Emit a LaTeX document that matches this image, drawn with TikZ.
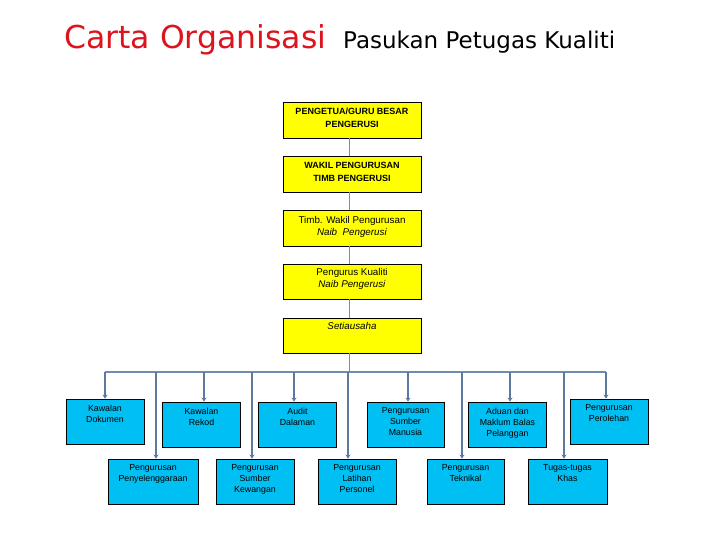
\documentclass[tikz,border=0pt]{standalone}
\usepackage{fontspec}
\setmainfont{Liberation Sans}
\newfontfamily\titlefont{DejaVu Sans}
\usetikzlibrary{arrows.meta,calc}
\definecolor{yfill}{RGB}{255,255,0}
\definecolor{cfill}{RGB}{0,191,243}
\definecolor{lnk}{RGB}{92,122,160}
\definecolor{barc}{RGB}{110,140,176}
\definecolor{spinec}{RGB}{120,140,165}
\definecolor{titlered}{RGB}{220,20,30}
\begin{document}
\begin{tikzpicture}[x=1pt,y=-1pt,
  ybx/.style={draw=black,fill=yfill,line width=0.8pt,minimum width=138pt,minimum height=36pt,inner sep=0pt},
  cbx/.style={draw=black,fill=cfill,line width=0.8pt,minimum width=78pt,minimum height=45pt,inner sep=0pt},
  ytx/.style={anchor=north,inner sep=0pt,align=center,font=\fontsize{9.8}{12}\selectfont},
  ytxb/.style={anchor=north,inner sep=0pt,align=center,font=\fontsize{9}{13}\selectfont\bfseries},
  ctx/.style={anchor=north,inner sep=0pt,align=center,font=\fontsize{8.8}{11}\selectfont},
  spine/.style={draw=spinec,line width=0.8pt},
  barl/.style={draw=barc,line width=1.3pt},
  arr/.style={draw=lnk,line width=2.5pt,-{Stealth[length=4pt,width=5pt]}}]
\useasboundingbox[fill=white] (0,0) rectangle (720,540);

% titles
\node[anchor=base west,inner sep=0pt,text=titlered,font=\titlefont\fontsize{31.5}{36}\selectfont] (t1) at (64,49) {Carta Organisasi};
\node[anchor=base west,inner sep=0pt,font=\titlefont\fontsize{23}{28}\selectfont] (t2) at (343,49) {Pasukan Petugas Kualiti};

% yellow chain
\node[ybx] (b1) at (352,120) {};
\node[ybx] (b2) at (352,174) {};
\node[ybx] (b3) at (352,228) {};
\node[ybx,minimum height=35pt] (b4) at (352,281.5) {};
\node[ybx,minimum height=35pt] (b5) at (352,335.5) {};
\node[ytxb] (x1) at ($(b1.north)+(0,6)$) {PENGETUA/GURU BESAR\\PENGERUSI};
\node[ytxb] (x2) at ($(b2.north)+(0,6)$) {WAKIL PENGURUSAN\\TIMB PENGERUSI};
\node[ytx] (x3) at ($(b3.north)+(0,7)$) {Timb. Wakil Pengurusan\\\textit{Naib\ \ Pengerusi}};
\node[ytx] (x4) at ($(b4.north)+(0,5)$) {Pengurus Kualiti\\\textit{Naib Pengerusi}};
\node[ytx] (x5) at ($(b5.north)+(0,5)$) {\textit{Setiausaha}};

\coordinate (sp) at (349,0);
\draw[spine] (b1.south -| sp) -- (b2.north -| sp);
\draw[spine] (b2.south -| sp) -- (b3.north -| sp);
\draw[spine] (b3.south -| sp) -- (b4.north -| sp);
\draw[spine] (b4.south -| sp) -- (b5.north -| sp);

% lower boxes, top row
\node[cbx] (kd) at (105,421.5) {};
\node[cbx] (kr) at (201.5,424.5) {};
\node[cbx] (ad) at (297.5,424.5) {};
\node[cbx,minimum width=77pt] (sm) at (405.5,424.5) {};
\node[cbx] (ma) at (507.5,424.5) {};
\node[cbx] (pr) at (609,421.5) {};
% bottom row
\node[cbx,minimum width=90pt] (py) at (153,481.5) {};
\node[cbx] (kw) at (255,481.5) {};
\node[cbx] (lt) at (357,481.5) {};
\node[cbx,minimum width=77pt] (tk) at (465.5,481.5) {};
\node[cbx,minimum width=79pt] (tg) at (567.5,481.5) {};

\node[ctx] (tkd) at ($(kd.north)+(0,6)$) {Kawalan\\Dokumen};
\node[ctx] (tkr) at ($(kr.north)+(0,6)$) {Kawalan\\Rekod};
\node[ctx] (tad) at ($(ad.north)+(0,6)$) {Audit\\Dalaman};
\node[ctx] (tsm) at ($(sm.north)+(0,6)$) {Pengurusan\\Sumber\\Manusia};
\node[ctx] (tma) at ($(ma.north)+(0,6)$) {Aduan dan\\Maklum Balas\\Pelanggan};
\node[ctx] (tpr) at ($(pr.north)+(0,6)$) {Pengurusan\\Perolehan};
\node[ctx] (tpy) at ($(py.north)+(0,6)$) {Pengurusan\\Penyelenggaraan};
\node[ctx] (tkw) at ($(kw.north)+(0,6)$) {Pengurusan\\Sumber\\Kewangan};
\node[ctx] (tlt) at ($(lt.north)+(0,6)$) {Pengurusan\\Latihan\\Personel};
\node[ctx] (ttk) at ($(tk.north)+(0,6)$) {Pengurusan\\Teknikal};
\node[ctx] (ttg) at ($(tg.north)+(0,6)$) {Tugas-tugas\\Khas};

% bar and connectors
\coordinate (barL) at (105,372);
\coordinate (barR) at (606,372);
\draw[spine] (b5.south -| sp) -- (barL -| sp);
\draw[barl] (barL) -- (barR);
\foreach \x/\n in {105/kd,204/kr,294/ad,408/sm,510/ma,606/pr,156/py,252/kw,348/lt,462/tk,564/tg}{
  \coordinate (j\n) at (\x,372);
  \draw[arr] (j\n) -- (j\n |- \n.north);
}
\end{tikzpicture}
\end{document}
